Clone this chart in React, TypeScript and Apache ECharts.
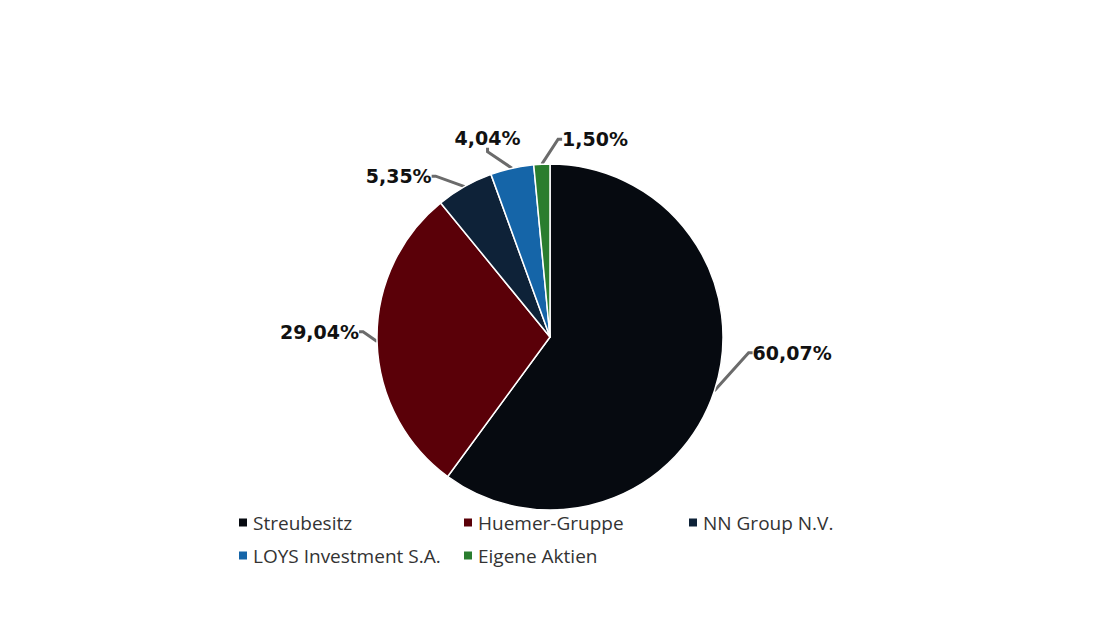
import React, { useEffect, useRef } from "react";
import * as echarts from "echarts";

const categories = ["Streubesitz", "Huemer-Gruppe", "NN Group N.V.", "LOYS Investment S.A.", "Eigene Aktien"];
const values = [60.07, 29.04, 5.35, 4.04, 1.5];
const colors = ["#060a10", "#5a0008", "#0e2238", "#1565a8", "#2a7d2e"];
// label offsets from ECharts' default label position: [dx, dy, flipToLeftAlign]
const labelShift: [number, number, boolean][] = [
  [14, -43, false],
  [2, -10, false],
  [5, -14, false],
  [62, -31, false],
  [30, -9, true],
];

export default function App() {
  const ref = useRef<HTMLDivElement>(null);
  useEffect(() => {
    const chart = echarts.init(ref.current!, null, { renderer: "svg" });
    chart.setOption({
      animation: false,
      backgroundColor: "#ffffff",
      color: colors,
      legend: {
        left: 232,
        top: 501,
        width: 700,
        orient: "horizontal",
        itemGap: 0,
        itemWidth: 10,
        itemHeight: 10,
        icon: "rect",
        selectedMode: false,
        data: categories,
        textStyle: {
          fontFamily: "Open Sans",
          fontSize: 19,
          color: "#333333",
          width: 209,
          lineHeight: 33,
          padding: [0, 0, 0, 0],
        },
      },
      series: [
        {
          type: "pie",
          center: [550, 337],
          radius: 173,
          startAngle: 90,
          clockwise: true,
          data: categories.map((c, i) => ({ name: c, value: values[i] })),
          itemStyle: { borderColor: "#ffffff", borderWidth: 1.5 },
          label: {
            show: true,
            formatter: (p: any) => values[p.dataIndex].toFixed(2).replace(".", ",") + "%",
            fontFamily: "DejaVu Sans",
            fontWeight: "bold",
            fontSize: 19,
            color: "#111111",
          },
          labelLine: {
            show: true,
            length: 16,
            length2: 4,
            lineStyle: { color: "#6b6b6b", width: 3 },
          },
          labelLayout: (p: any) => {
            const r = p.labelRect;
            const [dx, dy, flip] = labelShift[p.dataIndex];
            const right = r.x + r.width;
            const cy = r.y + r.height / 2 + dy;
            if (flip) return { x: right + dx, y: cy, align: "left", verticalAlign: "middle" };
            if (p.align === "right") return { x: right + dx, y: cy, align: "right", verticalAlign: "middle" };
            return { x: r.x + dx, y: cy, align: "left", verticalAlign: "middle" };
          },
        },
      ],
    });
    return () => chart.dispose();
  }, []);
  return <div ref={ref} style={{ position: "fixed", left: 0, top: 0, width: 1110, height: 624 }} />;
}
